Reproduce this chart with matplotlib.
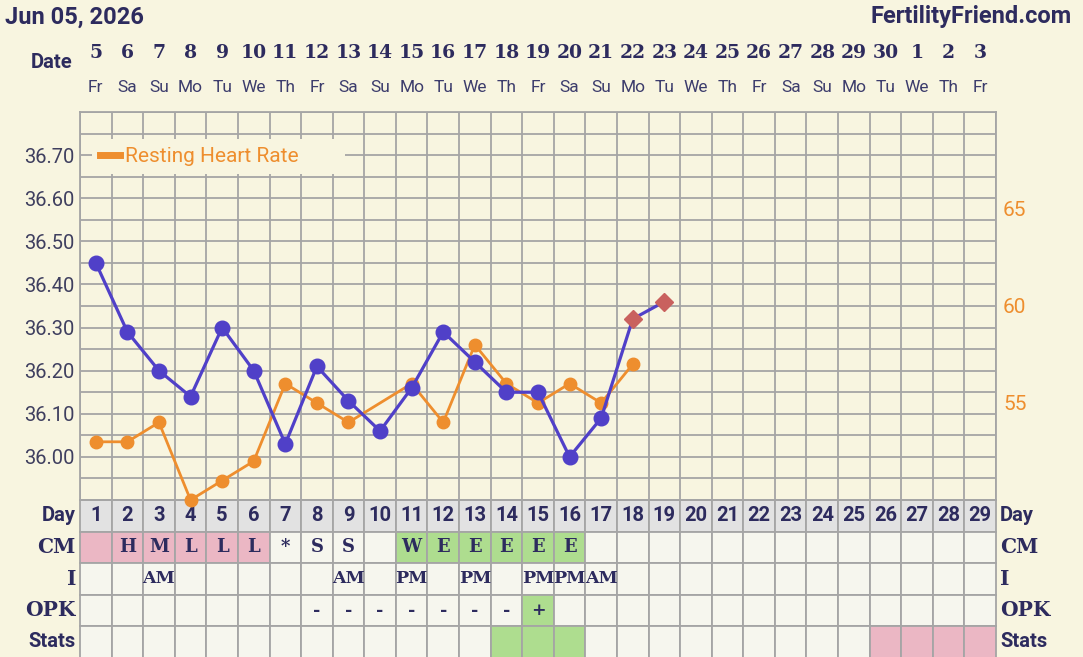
import matplotlib
matplotlib.use("Agg")
import matplotlib.pyplot as plt
from matplotlib.patches import Rectangle
from matplotlib.lines import Line2D
from matplotlib.transforms import blended_transform_factory
import numpy as np

plt.rcParams['font.family'] = ['Roboto', 'DejaVu Sans']

W, H = 1083, 657

# chart data
days = list(range(1, 30))
dates = [5, 6, 7, 8, 9, 10, 11, 12, 13, 14, 15, 16, 17, 18, 19, 20, 21, 22, 23,
         24, 25, 26, 27, 28, 29, 30, 1, 2, 3]
weekdays = ['Fr', 'Sa', 'Su', 'Mo', 'Tu', 'We', 'Th', 'Fr', 'Sa', 'Su', 'Mo', 'Tu',
            'We', 'Th', 'Fr', 'Sa', 'Su', 'Mo', 'Tu', 'We', 'Th', 'Fr', 'Sa', 'Su',
            'Mo', 'Tu', 'We', 'Th', 'Fr']
temp_days = list(range(1, 18))
temps = [36.45, 36.29, 36.20, 36.14, 36.30, 36.20, 36.03, 36.21, 36.13, 36.06,
         36.16, 36.29, 36.22, 36.15, 36.15, 36.00, 36.09]
flag_days = [18, 19]
flag_temps = [36.32, 36.36]
hr_days = [1, 2, 3, 4, 5, 6, 7, 8, 9, 11, 12, 13, 14, 15, 16, 17, 18]
hr = [53, 53, 54, 50, 51, 52, 56, 55, 54, 56, 54, 58, 56, 55, 56, 55, 57]
temp_ticks = [36.00, 36.10, 36.20, 36.30, 36.40, 36.50, 36.60, 36.70]
hr_ticks = [55, 60, 65]

# table data
row_labels = ['Day', 'CM', 'I', 'OPK', 'Stats']
cm = {2: 'H', 3: 'M', 4: 'L', 5: 'L', 6: 'L', 7: '*', 8: 'S', 9: 'S',
      11: 'W', 12: 'E', 13: 'E', 14: 'E', 15: 'E', 16: 'E'}
cm_pink = [1, 2, 3, 4, 5, 6]
cm_green = [11, 12, 13, 14, 15, 16]
insem = {3: 'AM', 9: 'AM', 11: 'PM', 13: 'PM', 15: 'PM', 16: 'PM', 17: 'AM'}
opk = {8: '-', 9: '-', 10: '-', 11: '-', 12: '-', 13: '-', 14: '-', 15: '+'}
opk_green = [15]
stats_green = [14, 15, 16]
stats_pink = [26, 27, 28, 29]

bg = '#f8f5e0'
navy = '#2d2b5e'
blue = '#5040c8'
orange = '#ee8e2e'
red = '#c9615e'
gridc = '#a5a5a5'
pink = '#ebb7c4'
green = '#aedd8f'
cell = '#f6f6ee'
dayrow = '#e2e2e2'
serif = 'DejaVu Serif'

fig = plt.figure(figsize=(W / 100, H / 100), dpi=100, facecolor=bg)

x0, x1 = 80, 996
ytop, ybot = 112, 500

# table (created first so the chart markers can sit on top of it)
tax = fig.add_axes([x0 / W, -0.5 / H, (x1 - x0) / W, 157.5 / H])
tax.set_xlim(0.5, 29.5)
tax.set_ylim(5, 0)
tax.axis('off')
for d in days:
    colors = [dayrow,
              pink if d in cm_pink else green if d in cm_green else cell,
              cell,
              green if d in opk_green else cell,
              green if d in stats_green else pink if d in stats_pink else cell]
    for r, c in enumerate(colors):
        tax.add_patch(Rectangle((d - 0.5, r), 1, 1, facecolor=c,
                                edgecolor=gridc, lw=1.3, clip_on=False))
    tax.text(d, 0.5, str(d), ha='center', va='center', fontsize=14.5,
             fontweight='bold', color=navy)
    if d in cm:
        tax.text(d, 1.5, cm[d], ha='center', va='center', family=serif,
                 fontweight='bold', fontsize=13, color=navy)
    if d in insem:
        tax.text(d, 2.5, insem[d], ha='center', va='center', family=serif,
                 fontweight='bold', fontsize=12.5, color=navy)
    if d in opk:
        tax.text(d, 3.5, opk[d], ha='center', va='center', family=serif,
                 fontweight='bold', fontsize=12.5, color=navy)

for r, lab in enumerate(row_labels):
    fam = serif if lab in ('CM', 'I', 'OPK') else 'Roboto'
    tax.text(0.5 - 0.13, r + 0.5, lab, ha='right', va='center', family=fam,
             fontweight='bold', fontsize=14.5, color=navy, clip_on=False)
    tax.text(29.5 + 0.13, r + 0.5, lab, ha='left', va='center', family=fam,
             fontweight='bold', fontsize=14.5, color=navy, clip_on=False)

ax = fig.add_axes([x0 / W, 1 - ybot / H, (x1 - x0) / W, (ybot - ytop) / H])
ax.set_facecolor(bg)
ax.set_xlim(0.5, 29.5)
ax.set_ylim(35.90, 36.80)
ax.set_xticks(np.arange(0.5, 29.6, 1))
ax.set_xticklabels([])
ax.set_yticks(temp_ticks)
ax.set_yticklabels(['%.2f' % t for t in temp_ticks])
ax.set_yticks(np.arange(35.90, 36.801, 0.05), minor=True)
ax.tick_params(which='both', length=0)
ax.tick_params(axis='y', labelsize=14.5, labelcolor='#3f3f5f', pad=4)
ax.grid(True, which='both', color=gridc, lw=1.3)
for s in ax.spines.values():
    s.set_color(gridc)
    s.set_linewidth(1.3)

# heart rate axis
ax_hr = ax.twinx()
ax_hr.set_ylim(50, 70)
ax_hr.set_yticks(hr_ticks)
ax_hr.tick_params(length=0, labelsize=15, labelcolor=orange, pad=5)
for s in ax_hr.spines.values():
    s.set_visible(False)
ax_hr.plot(hr_days, hr, '-o', color=orange, lw=2.0, ms=9, zorder=3,
           clip_on=False)

# temperature on top
ax_t = ax.twinx()
ax_t.set_ylim(ax.get_ylim())
ax_t.set_yticks([])
for s in ax_t.spines.values():
    s.set_visible(False)
ax_t.plot(temp_days + flag_days, temps + flag_temps, color=blue, lw=2.3, zorder=3)
ax_t.plot(temp_days, temps, 'o', color=blue, ms=10.5, zorder=4, clip_on=False)
ax_t.plot(flag_days, flag_temps, 'D', color=red, ms=9, zorder=5)

leg = ax_t.legend([Line2D([], [], color=orange, lw=5)], ['Resting Heart Rate'],
                  loc='center left', mode='expand',
                  bbox_to_anchor=(0.013, 0.885, 0.276, 0.0),
                  borderaxespad=0, borderpad=0.4, handlelength=0.95,
                  handletextpad=0.25, frameon=True, fancybox=False,
                  prop={'size': 15})
leg.get_frame().set_facecolor(bg)
leg.get_frame().set_edgecolor('none')
leg.get_frame().set_alpha(1)
for t in leg.get_texts():
    t.set_color(orange)

# header
fig.text(5 / W, 1 - 17 / H, 'Jun 05, 2026', fontsize=17, fontweight='bold',
         color=navy, va='center', ha='left')
fig.text(1072 / W, 1 - 17 / H, 'FertilityFriend.com', fontsize=17,
         fontweight='bold', color=navy, va='center', ha='right')
fig.text(52 / W, 1 - 62 / H, 'Date', fontsize=14.5, fontweight='bold',
         color=navy, va='center', ha='center')
trx = blended_transform_factory(ax.transData, fig.transFigure)
for d, dt, wd in zip(days, dates, weekdays):
    ax.text(d, 1 - 53 / H, str(dt), transform=trx, ha='center', va='center',
            family=serif, fontweight='bold', fontsize=13.5, color=navy)
    ax.text(d, 1 - 87 / H, wd, transform=trx, ha='center', va='center',
            fontsize=12.5, color='#3c3c6c')

fig.savefig('out.png', dpi=100, facecolor=bg)
